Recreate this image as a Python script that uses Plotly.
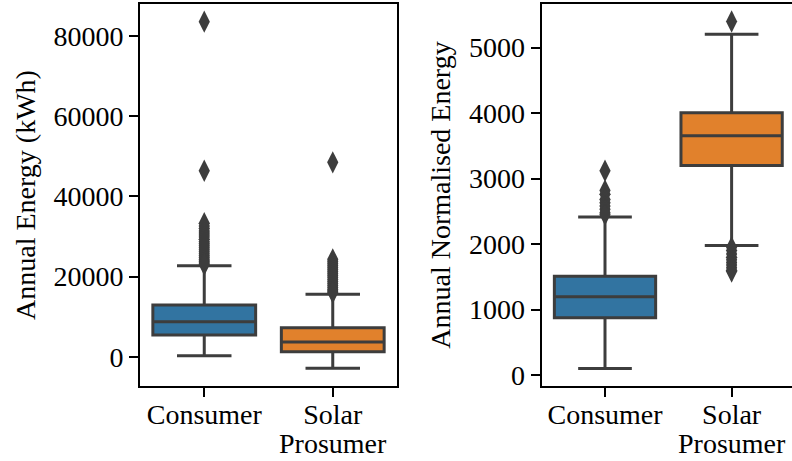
import plotly.graph_objects as go

# Categories and their two-line tick labels
categories = ["Consumer", "Solar Prosumer"]
label_line1 = ["Consumer", "Solar"]
label_line2 = ["", "Prosumer"]

# Annual energy (kWh) box statistics: [Consumer, Solar Prosumer]
energy_q1 = [5400, 1250]
energy_median = [8700, 3700]
energy_q3 = [12900, 7250]
energy_lower = [250, -2900]
energy_upper = [22700, 15600]
energy_outliers_consumer = [83600, 46400, 33300, 32600, 32000, 31400, 30900, 30400,
                            29900, 29300, 28700, 28200, 27700, 27200, 26700, 26200,
                            25700, 25200, 24700, 24200, 23800, 23400, 23000]
energy_outliers_solar = [48500, 24300, 23800, 23300, 22800, 22300, 21800, 21300,
                         20800, 20300, 19800, 19300, 18800, 18300, 17800, 17300,
                         16800, 16400, 16000]

# Annual normalised energy box statistics
norm_q1 = [875, 3200]
norm_median = [1195, 3655]
norm_q3 = [1510, 4005]
norm_lower = [100, 1980]
norm_upper = [2415, 5205]
norm_outliers_consumer = [3120, 2820, 2760, 2680, 2630, 2580, 2530, 2480, 2450]
norm_outliers_solar = [5400, 1950, 1900, 1850, 1800, 1760, 1720, 1680, 1640, 1600, 1580]

fills = ["#3274a1", "#e1812c"]
edge = "#3d3d3d"
font_family = "Liberation Serif, Times New Roman, serif"
FS = 28

fig = go.Figure()


def add_panel(q1, med, q3, lo, hi, outs, xref, yref):
    for i, cat in enumerate(categories):
        fig.add_trace(go.Box(
            x=[cat], q1=[q1[i]], median=[med[i]], q3=[q3[i]],
            lowerfence=[lo[i]], upperfence=[hi[i]],
            fillcolor=fills[i], line=dict(color=edge, width=3),
            width=0.8, whiskerwidth=0.53, boxpoints=False,
            showlegend=False, xaxis=xref, yaxis=yref,
        ))
        fig.add_trace(go.Scatter(
            x=[cat] * len(outs[i]), y=outs[i], mode="markers",
            marker=dict(symbol="diamond-tall", size=16, color=edge, line=dict(width=0)),
            showlegend=False, xaxis=xref, yaxis=yref,
        ))
        # second line of the category label, set tighter than <br> spacing
        if label_line2[i]:
            fig.add_annotation(
                x=cat, y=0, xref=xref, yref="paper", text=label_line2[i],
                showarrow=False, yanchor="top", yshift=-41, borderpad=0,
                font=dict(family=font_family, size=FS, color="black"),
            )


add_panel(energy_q1, energy_median, energy_q3, energy_lower, energy_upper,
          [energy_outliers_consumer, energy_outliers_solar], "x", "y")
add_panel(norm_q1, norm_median, norm_q3, norm_lower, norm_upper,
          [norm_outliers_consumer, norm_outliers_solar], "x2", "y2")

W, H = 792, 461
axis_common = dict(
    showline=True, linecolor="black", linewidth=2,
    ticks="outside", ticklen=9, tickwidth=2, tickcolor="black",
    showgrid=False, zeroline=False, automargin=False,
    tickfont=dict(family=font_family, size=FS, color="black"),
)

fig.update_layout(
    width=W, height=H,
    margin=dict(l=0, r=0, t=4, b=75),
    paper_bgcolor="white", plot_bgcolor="white",
    boxmode="overlay",
    font=dict(family=font_family, size=FS, color="black"),
    xaxis=dict(domain=[140 / W, 397 / W], anchor="y", type="category",
               categoryorder="array", categoryarray=categories,
               tickvals=categories, ticktext=label_line1, ticklabelstandoff=-7,
               range=[-0.5, 1.5], mirror=True, **axis_common),
    yaxis=dict(domain=[0, 1], anchor="x", range=[-7300, 88000],
               tickvals=[0, 20000, 40000, 60000, 80000], tickformat="d",
               mirror=True, ticklabelstandoff=0,
               title=dict(text="Annual Energy (kWh)", standoff=10,
                          font=dict(family=font_family, size=FS)),
               **axis_common),
    xaxis2=dict(domain=[541.7 / W, 1.0], anchor="y2", type="category",
                categoryorder="array", categoryarray=categories,
                tickvals=categories, ticktext=label_line1, ticklabelstandoff=-7,
                range=[-0.5, 1.477], mirror=True, **axis_common),
    yaxis2=dict(domain=[0, 1], anchor="x2", range=[-168, 5667],
                tickvals=[0, 1000, 2000, 3000, 4000, 5000], tickformat="d",
                mirror=False, ticklabelstandoff=0,
                title=dict(text="Annual Normalised Energy", standoff=10,
                           font=dict(family=font_family, size=FS)),
                **axis_common),
)

fig.write_html("out.html")
